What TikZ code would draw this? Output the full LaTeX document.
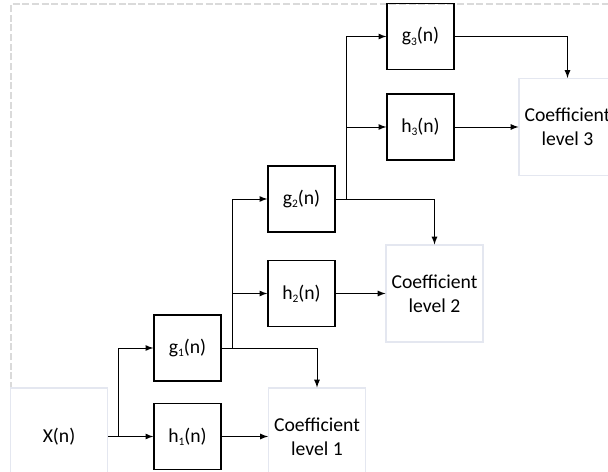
\documentclass[tikz,border=0pt]{standalone}
\usepackage{fontspec}
\setmainfont{Carlito}
\newcommand{\lvl}[1]{\raisebox{-0.35ex}{\fontsize{6.5pt}{6.5pt}\selectfont#1}}
\definecolor{framegray}{RGB}{218,218,218}
\definecolor{paleblue}{RGB}{228,231,240}
\begin{document}
\begin{tikzpicture}[x = 0.02cm, y = -0.02cm,
	filt/.style = {draw, line width = 0.75pt, minimum width = 1.34cm, minimum height = 1.32cm, inner sep = 0pt},
	outbox/.style = {draw = paleblue, line width = 0.6pt, minimum size = 1.94cm, align = center, inner sep = 0pt},
	conn/.style = {-latex, line width = 0.55pt},
	font = \fontsize{11.2pt}{13.6pt}\selectfont]
	\clip (0,0) rectangle (608,472);
	\draw [framegray, line width = 0.6pt, dash pattern = on 4pt off 1.5pt] (11,389) -- (11,4) -- (620,4);
	% input and level 1
	\node [outbox] (x) at (59,436.5) {X(n)};
	\node [filt] (g1) at (187.5,348) {g\lvl{1}(n)};
	\node [filt] (h1) at (187.5,436.5) {h\lvl{1}(n)};
	\node [outbox] (c1) at (317,436.5) {Coefficient\\level 1};
	% level 2
	\node [filt] (g2) at (301.5,199) {g\lvl{2}(n)};
	\node [filt] (h2) at (301.5,293.5) {h\lvl{2}(n)};
	\node [outbox] (c2) at (434.5,293.5) {Coefficient\\level 2};
	% level 3
	\node [filt] (g3) at (420.5,36.5) {g\lvl{3}(n)};
	\node [filt] (h3) at (420.5,127) {h\lvl{3}(n)};
	\node [outbox] (c3) at (567.5,127) {Coefficient\\level 3};
	% branch points
	\coordinate (j1) at (118,436.5);
	\coordinate (j2) at (232,348);
	\coordinate (j3) at (346.5,199);
	% connections
	\draw [conn] (x) -- (h1);
	\draw [conn] (j1) |- (g1);
	\draw [conn] (h1) -- (c1);
	\draw [conn] (g1) -| (c1);
	\draw [conn] (j2) |- (g2);
	\draw [conn] (j2) |- (h2);
	\draw [conn] (h2) -- (c2);
	\draw [conn] (g2) -| (c2);
	\draw [conn] (j3) |- (g3);
	\draw [conn] (j3) |- (h3);
	\draw [conn] (h3) -- (c3);
	\draw [conn] (g3) -| (c3);
\end{tikzpicture}
\end{document}
